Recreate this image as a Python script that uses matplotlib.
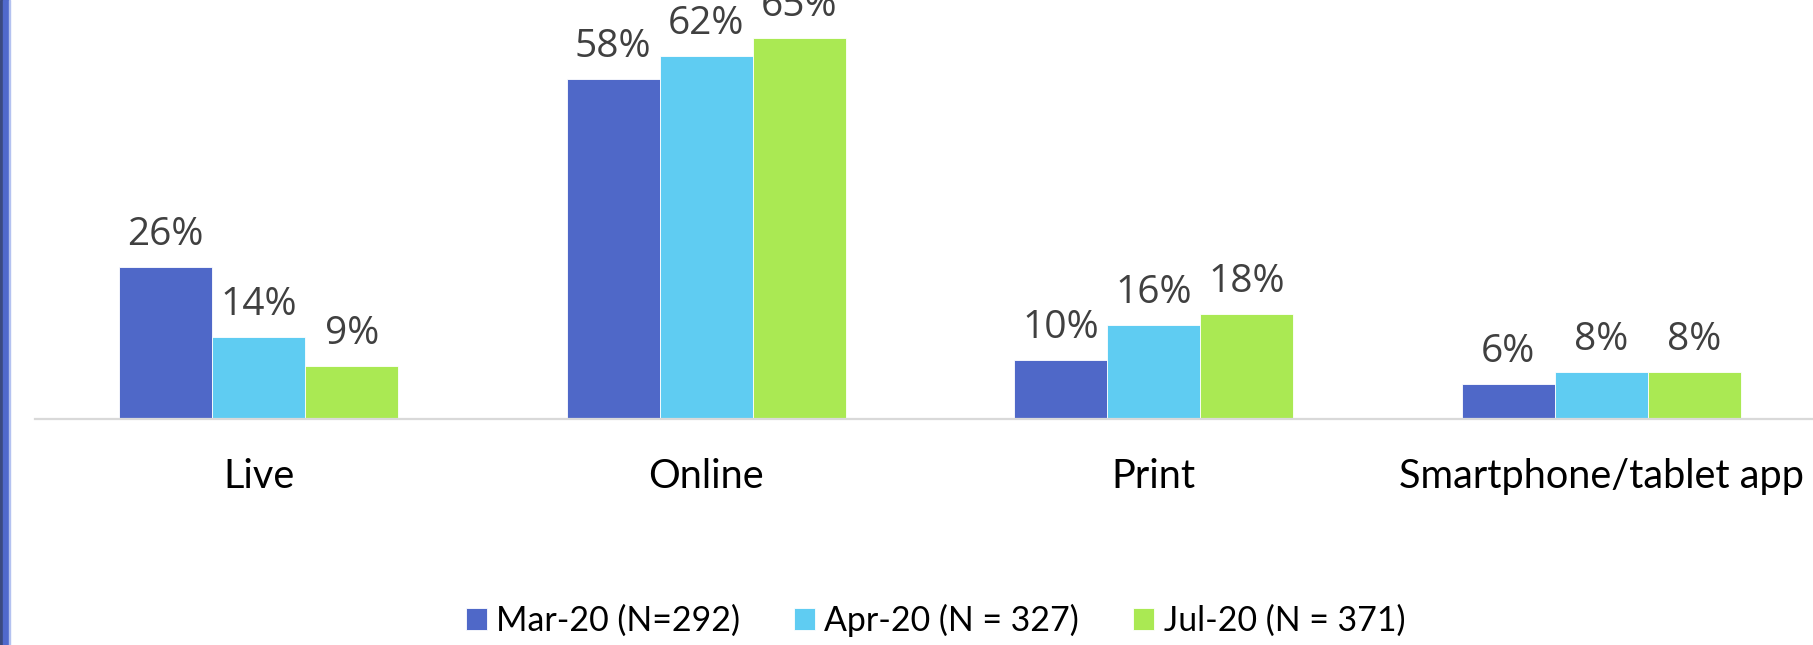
import matplotlib.pyplot as plt
from matplotlib.patches import Rectangle
import numpy as np

categories = ['Live', 'Online', 'Print', 'Smartphone/tablet app']
series_names = ['Mar-20 (N=292)', 'Apr-20 (N = 327)', 'Jul-20 (N = 371)']
mar_20 = [26, 58, 10, 6]
apr_20 = [14, 62, 16, 8]
jul_20 = [9, 65, 18, 8]
colors = ['#4F68C8', '#5FCCF2', '#AAE953']

W, H = 1813, 645
fig = plt.figure(figsize=(W / 100, H / 100), dpi=100)
fig.patch.set_facecolor('white')

# plot area is wider than the crop on the right
ax = fig.add_axes([35 / W, 226 / H, 1790 / W, 419 / H])
ax.set_xlim(-0.5, 3.5)
ax.set_ylim(0, 71.5)

x = np.arange(len(categories))
bw = 0.208
bars = []
for k, vals in enumerate([mar_20, apr_20, jul_20]):
    b = ax.bar(x + (k - 1) * bw, vals, width=bw, color=colors[k],
               edgecolor='white', linewidth=0.6, label=series_names[k])
    bars.append(b)
    for xi, v in zip(x + (k - 1) * bw, vals):
        ax.annotate(f'{v}%', xy=(xi, v), xytext=(0, 15.8), textcoords='offset points',
                    ha='center', va='baseline', fontsize=28, color='#404040',
                    family='Open Sans', annotation_clip=False)

for xi, name in zip(x, categories):
    ax.annotate(name, xy=(xi, 0), xycoords=('data', 'axes fraction'),
                xytext=(0, -49.7), textcoords='offset points',
                ha='center', va='baseline', fontsize=28.5, color='black', family='Lato')

for s in ['top', 'right', 'left']:
    ax.spines[s].set_visible(False)
ax.spines['bottom'].set_color('#d9d9d9')
ax.spines['bottom'].set_linewidth(1.6)
ax.set_xticks([])
ax.set_yticks([])
ax.patch.set_alpha(0)

leg = fig.legend(handles=bars, labels=series_names, loc='center',
                 bbox_to_anchor=(935.5 / W, 1 - 620 / H), ncol=3, frameon=False,
                 prop={'family': 'Lato', 'size': 24.4}, handlelength=0.62,
                 handleheight=0.62, handletextpad=0.27, columnspacing=1.6,
                 borderpad=0, borderaxespad=0)

# left edge stripe
fig.patches.append(Rectangle((0, 0), 3 / W, 1, transform=fig.transFigure, color='#3B4A80'))
fig.patches.append(Rectangle((3 / W, 0), 6 / W, 1, transform=fig.transFigure, color='#5069CC'))
fig.patches.append(Rectangle((9 / W, 0), 1 / W, 1, transform=fig.transFigure, color='#B4C2F0'))

fig.savefig('out.png', dpi=100)
